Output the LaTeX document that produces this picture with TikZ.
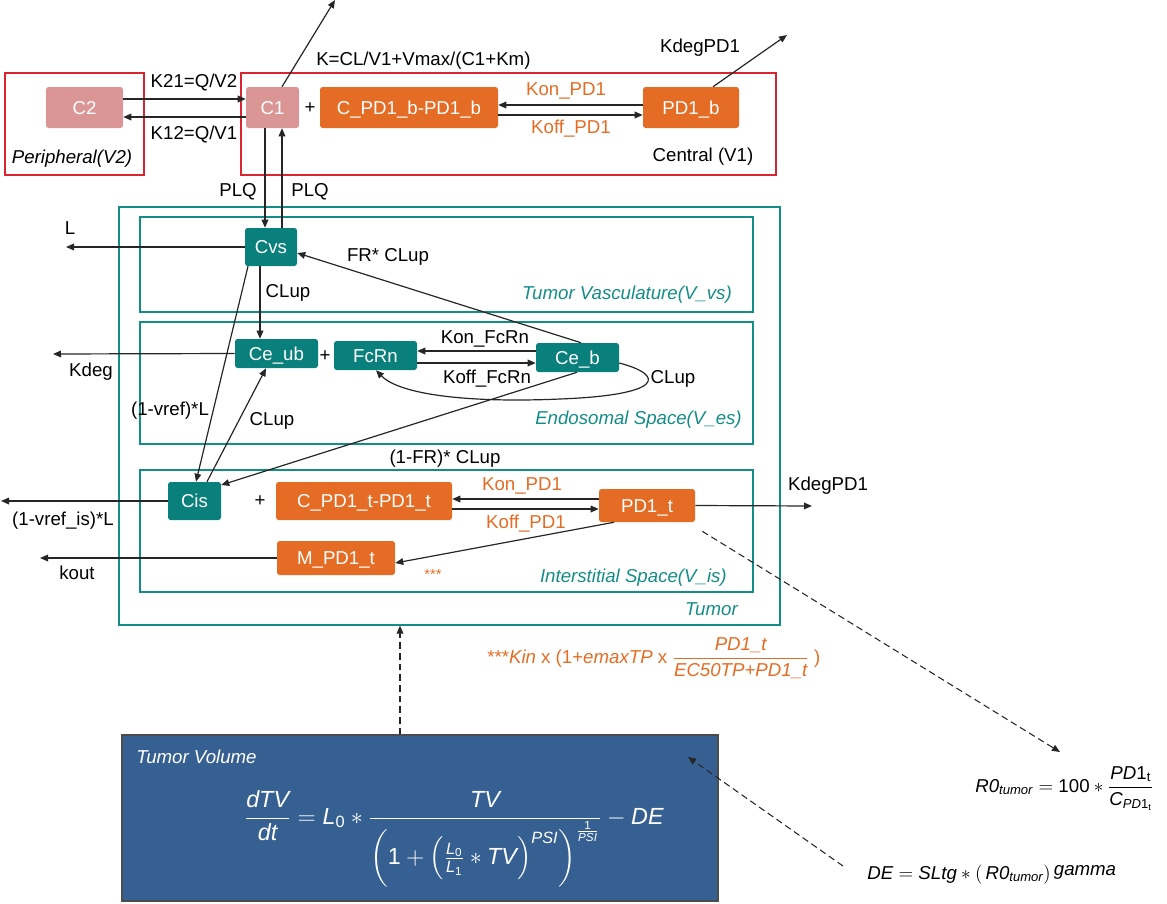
\documentclass[tikz,border=0pt]{standalone}
\usepackage{amsmath}
\usepackage{fontspec}
\setmainfont{Liberation Sans}
\usetikzlibrary{arrows.meta}
\newcommand\fs{\fontsize{14}{16}\selectfont}
\newcommand\ti[1]{\textit{#1}}
\newcommand\tu[1]{\textup{#1}}
\definecolor{redc}{RGB}{218,37,48}
\definecolor{pink}{RGB}{217,150,148}
\definecolor{orng}{RGB}{228,108,36}
\definecolor{tealf}{RGB}{10,128,124}
\definecolor{tealc}{RGB}{20,140,135}
\definecolor{bluebox}{RGB}{55,96,146}
\begin{document}
\begin{tikzpicture}[x=0.75pt,y=-0.75pt,
  every node/.style={font=\fs, inner sep=0pt, text height=10pt, text depth=0pt},
  sz/.style 2 args={minimum width=#1*0.75pt, minimum height=#2*0.75pt},
  box/.style={rounded corners=2pt, text=white},
  pk/.style={box, fill=pink},
  og/.style={box, fill=orng},
  tl/.style={box, fill=tealf},
  arr/.style={-{Triangle[length=6pt,width=5pt]}, line width=0.9pt, draw=black!85},
  dsh/.style={arr, line width=0.8pt, dash pattern=on 5pt off 3pt},
  redbox/.style={draw=redc, line width=1pt},
  tealbox/.style={draw=tealc, line width=1pt},
  olab/.style={text=orng},
  tlab/.style={text=tealc, font=\fs\itshape}
]
\useasboundingbox (0,0) rectangle (1167,903);

% compartments
\draw[redbox] (5,73) rectangle (144,175);
\draw[redbox] (241,73) rectangle (776,175);
\node[tealbox, sz={661}{418}] (tumor) at (449.5,416) {};
\draw[tealbox] (140,217) rectangle (753,312);
\draw[tealbox] (140,322) rectangle (753,444);
\draw[tealbox] (140,470) rectangle (753,592);

% nodes
\node[pk, sz={77}{41}] (C2) at (84.5,107.5) {C2};
\node[pk, sz={53}{41}] (C1) at (272.5,107.5) {C1};
\node[og, sz={178}{41}] (CPD1b) at (409,107.5) {C\_PD1\_b-PD1\_b};
\node[og, sz={96}{41}] (PD1b) at (691,107.5) {PD1\_b};
\node[tl, sz={52}{38}] (Cvs) at (271,247) {Cvs};
\node[tl, sz={83}{29}] (Ceub) at (276.5,353.5) {Ce\_ub};
\node[tl, sz={83}{29}] (FcRn) at (375.5,355.5) {FcRn};
\node[tl, sz={83}{29}] (Ceb) at (577.5,357.5) {Ce\_b};
\node[tl, sz={53}{38}] (Cis) at (194.5,501) {Cis};
\node[og, sz={176}{38}] (CPD1t) at (364,501) {C\_PD1\_t-PD1\_t};
\node[og, sz={96}{33}] (PD1t) at (647,505.5) {PD1\_t};
\node[og, sz={118}{34}] (MPD1t) at (336,558) {M\_PD1\_t};

% plus signs
\node (p1) at (310,107) {+};
\node (p2) at (325,355) {+};
\node (p3) at (260,500) {+};

% free ends
\coordinate (outC1) at (335,0);
\coordinate (outPD1b) at (787,35);
\coordinate (outL) at (66,247);
\coordinate (outKdeg) at (53,354);
\coordinate (outCis) at (1,501);
\coordinate (outKout) at (40,558);
\coordinate (outPD1t) at (812,506);

% top connectors
\draw[arr] (C2.east |- 0,99) -- (C1.west |- 0,99);
\draw[arr] (C1.west |- 0,117) -- (C2.east |- 0,117);
\draw[arr] (C1.north -| 282,0) -- (outC1);
\draw[arr] (PD1b.west |- 0,105) -- (CPD1b.east |- 0,105);
\draw[arr] (CPD1b.east |- 0,115) -- (PD1b.west |- 0,115);
\draw[arr] (PD1b.north -| 713,0) -- (outPD1b);
\draw[arr] (C1.south -| 265,0) -- (Cvs.north -| 265,0);
\draw[arr] (Cvs.north -| 282,0) -- (C1.south -| 282,0);

% tumor connectors
\draw[arr] (Cvs.west) -- (outL);
\draw[arr] (Cvs.south -| 260,0) -- (Ceub.north -| 260,0);
\draw[arr] (Ceb.north -| 581,0) -- (Cvs.east |- 0,253);
\draw[arr] (Ceb.west |- 0,351) -- (FcRn.east |- 0,351);
\draw[arr] (FcRn.east |- 0,363) -- (Ceb.west |- 0,363);
\draw[arr] (Ceub.west) -- (outKdeg);
\draw[arr] (Ceb.east |- 0,363) .. controls (665,375) and (665,395) .. (560,399)
  .. controls (470,403) and (400,395) .. (FcRn.south -| 376,0);
\draw[arr] (Cvs.south -| 248,0) -- (Cis.north -| 196,0);
\draw[arr] (Cis.north -| 207,0) -- (Ceub.south -| 266,0);
\draw[arr] (Ceb.south -| 577,0) -- (Cis.east |- 0,485);
\draw[arr] (Cis.west) -- (outCis);
\draw[arr] (MPD1t.west) -- (outKout);
\draw[arr] (PD1t.west |- 0,499) -- (CPD1t.east |- 0,499);
\draw[arr] (CPD1t.east |- 0,509) -- (PD1t.west |- 0,509);
\draw[arr] (PD1t.east) -- (outPD1t);
\draw[arr] (PD1t.south -| 614,0) -- (MPD1t.east |- 0,563);

% labels top
\node[anchor=west] (lK) at (316,59) {K=CL/V1+Vmax/(C1+Km)};
\node (lKdegb) at (700,46) {KdegPD1};
\node (lK21) at (194,81) {K21=Q/V2};
\node (lK12) at (194,133) {K12=Q/V1};
\node[font=\fs\itshape] (lPer) at (72,157) {Peripheral(V2)};
\node (lCen) at (703,155) {Central (V1)};
\node[olab] (lKonb) at (566,89) {Kon\_PD1};
\node[olab] (lKoffb) at (571,127) {Koff\_PD1};
\node (lPLQ1) at (238,190) {PLQ};
\node (lPLQ2) at (310,190) {PLQ};

% labels tumor
\node (lL) at (70,228) {L};
\node (lCLup1) at (288,291) {CLup};
\node (lFR) at (388,255) {FR* CLup};
\node[tlab, anchor=east] (lVvs) at (732,293) {Tumor Vasculature(V\_vs)};
\node (lKonF) at (485,337) {Kon\_FcRn};
\node (lKoffF) at (487,377) {Koff\_FcRn};
\node (lKdeg) at (91,370) {Kdeg};
\node (lCLup2) at (673,377) {CLup};
\node (lvref) at (170,409) {(1-vref)*L};
\node (lCLup3) at (272,419) {CLup};
\node[tlab, anchor=east] (lVes) at (742,418) {Endosomal Space(V\_es)};
\node (lFR2) at (445,457) {(1-FR)* CLup};
\node (lvrefis) at (63,519) {(1-vref\_is)*L};
\node[olab] (lKont) at (522,484) {Kon\_PD1};
\node[olab] (lKofft) at (526,522) {Koff\_PD1};
\node (lKdegt) at (828,484) {KdegPD1};
\node (lkout) at (77,573) {kout};
\node[olab, font=\fontsize{11}{12}\selectfont] (lstar) at (433,573) {***};
\node[tlab, anchor=east] (lVis) at (727,576) {Interstitial Space(V\_is)};
\node[tlab, anchor=east] (lTumor) at (738,609) {Tumor};

% orange formula
\node[olab, anchor=base west, text height=, text depth=] (kin) at (487,663)
  {***\textit{Kin} x (1+\textit{emaxTP} x $\dfrac{\ti{PD1\_t}}{\ti{EC50TP+PD1\_t}}$ )};

% tumor volume box
\node[draw=black!70, fill=bluebox, line width=0.8pt, sz={596}{166}] (tvbox) at (420,818) {};
\node[anchor=west, text=white, font=\fs\itshape] (tvtitle) at (136,757) {Tumor Volume};
\node[anchor=base west, text=white, text height=, text depth=] (eqn) at (244,824)
  {\scalebox{1.25}{$\displaystyle \frac{\ti{dTV}}{\ti{dt}} = \ti{L}_{\tu{0}} * \frac{\ti{TV}}{\left(\tu{1} + \left(\frac{\ti{L}_{\tu{0}}}{\ti{L}_{\tu{1}}} * \ti{TV}\right)^{\ti{PSI}}\right)^{\frac{\tu{1}}{\ti{PSI}}}} - \ti{DE}$}};

% R0 and DE formulas
\node[anchor=base west, text height=, text depth=] (R0) at (975,792)
  {$\ti{R0}_{\ti{tumor}} = \tu{100} * \dfrac{\ti{PD}\tu{1}_{\tu{t}}}{\ti{C}_{\ti{PD}\tu{1}_{\tu{t}}}}$};
\node[anchor=base west, text height=, text depth=] (DEf) at (867,879)
  {$\ti{DE} = \ti{SLtg} * (\,\ti{R0}_{\ti{tumor}})$\,\raisebox{3pt}{\textit{gamma}}};

% dashed connectors
\coordinate (r0tip) at (1060,752);
\coordinate (detip) at (688,757);
\coordinate (destart) at (843,866);
\draw[dsh] (PD1t.south east) ++(7,9) coordinate (pdstart) -- (r0tip);
\draw[dsh] (tvbox.north -| 400,0) -- (tumor.south -| 400,0);
\draw[dsh] (destart) -- (detip);
\end{tikzpicture}
\end{document}
